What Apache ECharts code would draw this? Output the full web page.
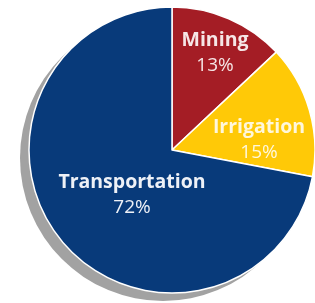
<!DOCTYPE html>
<html>
<head>
<meta charset="utf-8">
<script src="https://cdn.jsdelivr.net/npm/echarts@6/dist/echarts.min.js"></script>
<style>
  html, body { margin: 0; padding: 0; background: #fff; }
  #chart { width: 315px; height: 303px; }
</style>
</head>
<body>
<div id="chart"></div>
<script>
// water use by sector
const categories = ['Mining', 'Irrigation', 'Transportation']
const shares = [13, 15, 72]

const COLORS = ['#a41d25', '#ffc907', '#083a7a']
const TEXT_COLORS = ['#f6e6e6', '#fff7dc', '#eef1f7']
// label block centres (px), hand placed like the original
const LABEL_POS = [[215, 53], [259, 140], [132, 195]]

const CENTER = [172, 150]
const RADIUS = 143

const chart = echarts.init(document.getElementById('chart'))

chart.setOption({
  animation: false,
  series: [
    {
      // drop shadow disc behind the pie
      type: 'pie',
      z: 1,
      center: [CENTER[0] - 9, CENTER[1] + 8],
      radius: RADIUS,
      silent: true,
      label: { show: false },
      labelLine: { show: false },
      itemStyle: { color: '#a2a2a2' },
      data: [{ name: 'shadow', value: shares.reduce((a, b) => a + b, 0) }]
    },
    {
      type: 'pie',
      z: 2,
      center: CENTER,
      radius: RADIUS,
      startAngle: 90,
      clockwise: true,
      silent: true,
      label: {
        show: true,
        position: 'inside',
        formatter: p => `{n|${p.name}}\n{v|${p.value}%}`,
        rich: {
          n: { fontSize: 19.5, fontWeight: 'bold', fontFamily: 'Open Sans', lineHeight: 25 },
          v: { fontSize: 19, fontWeight: 'normal', fontFamily: 'Open Sans', lineHeight: 25 }
        }
      },
      labelLine: { show: false },
      labelLayout: p => ({ x: LABEL_POS[p.dataIndex][0], y: LABEL_POS[p.dataIndex][1] }),
      data: categories.map((name, i) => ({
        name,
        value: shares[i],
        itemStyle: {
          color: COLORS[i],
          borderColor: '#ffffff',
          borderWidth: 1.5
        },
        label: {
          rich: {
            n: { color: TEXT_COLORS[i] },
            v: { color: TEXT_COLORS[i] }
          }
        }
      }))
    }
  ]
})
</script>
</body>
</html>
